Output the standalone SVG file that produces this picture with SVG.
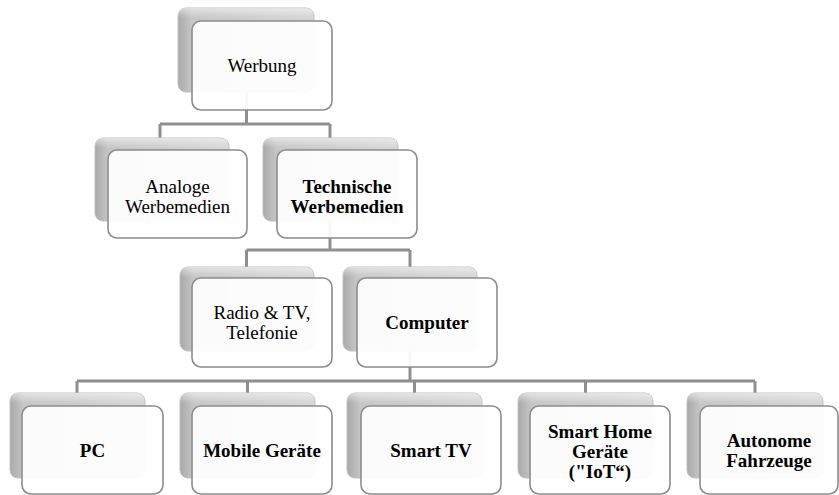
<svg xmlns="http://www.w3.org/2000/svg" width="839" height="495" viewBox="0 0 839 495" font-family="Liberation Serif, Times New Roman, serif">
<defs>
<linearGradient id="bk" x1="0" y1="0" x2="1" y2="0">
<stop offset="0" stop-color="#a9a9a9"/>
<stop offset="0.1" stop-color="#c6c6c6"/>
<stop offset="1" stop-color="#d6d6d6"/>
</linearGradient>
<linearGradient id="bkt" x1="0" y1="0" x2="0" y2="1">
<stop offset="0" stop-color="#ffffff" stop-opacity="0.5"/>
<stop offset="0.12" stop-color="#ffffff" stop-opacity="0"/>
</linearGradient>
<style>
.back{fill:url(#bk);stroke:#c0c0c0;stroke-width:1}
.hl{fill:url(#bkt);stroke:none}
.front{fill:#ffffff;fill-opacity:0.93;stroke:#8c8c8c;stroke-width:1.6}
.t{font-family:'Liberation Serif',serif;font-size:19px;fill:#000;text-anchor:middle}
.b{font-weight:bold}
.c{fill:none;stroke:#8f8f8f;stroke-width:3}
</style>
</defs>
<g id="connectors">
<path class="c" d="M246.5 92 V124 M160 124 H330 M160 124 V138 M330 124 V138"/>
<path class="c" d="M330 222 V250 M246.5 250 H410 M246.5 250 V267 M410 250 V267"/>
<path class="c" d="M410 351 V381 M77 381 H755 M77 381 V393 M247.5 381 V393 M414.5 381 V393 M585.5 381 V393 M755 381 V393"/>
</g>
<g id="werbung">
<rect class="back" x="178" y="8" width="136" height="84" rx="8"/>
<rect class="hl" x="178" y="8" width="136" height="84" rx="8"/>
<rect class="front" x="192" y="21" width="140" height="89" rx="9"/>
<text class="t" x="262" y="72">Werbung</text>
</g>
<g id="analoge">
<rect class="back" x="95" y="138" width="134" height="83" rx="8"/>
<rect class="hl" x="95" y="138" width="134" height="83" rx="8"/>
<rect class="front" x="108" y="150" width="139" height="88" rx="9"/>
<text class="t" x="177.5" y="193">Analoge</text>
<text class="t" x="177.5" y="213">Werbemedien</text>
</g>
<g id="technische">
<rect class="back" x="263" y="138" width="135" height="83" rx="8"/>
<rect class="hl" x="263" y="138" width="135" height="83" rx="8"/>
<rect class="front" x="277" y="150" width="140" height="88" rx="9"/>
<text class="t b" x="347" y="193">Technische</text>
<text class="t b" x="347" y="213">Werbemedien</text>
</g>
<g id="radio">
<rect class="back" x="180" y="267" width="134" height="84" rx="8"/>
<rect class="hl" x="180" y="267" width="134" height="84" rx="8"/>
<rect class="front" x="192" y="278" width="140" height="89" rx="9"/>
<text class="t" x="262" y="319">Radio &amp; TV,</text>
<text class="t" x="262" y="339">Telefonie</text>
</g>
<g id="computer">
<rect class="back" x="343" y="267" width="134" height="84" rx="8"/>
<rect class="hl" x="343" y="267" width="134" height="84" rx="8"/>
<rect class="front" x="357" y="278" width="140" height="89" rx="9"/>
<text class="t b" x="427" y="329">Computer</text>
</g>
<g id="pc">
<rect class="back" x="10" y="393" width="135" height="85" rx="8"/>
<rect class="hl" x="10" y="393" width="135" height="85" rx="8"/>
<rect class="front" x="22" y="406" width="141" height="88" rx="9"/>
<text class="t b" x="92.5" y="457">PC</text>
</g>
<g id="mobile">
<rect class="back" x="180" y="393" width="135" height="85" rx="8"/>
<rect class="hl" x="180" y="393" width="135" height="85" rx="8"/>
<rect class="front" x="192" y="406" width="140" height="88" rx="9"/>
<text class="t b" x="262" y="457">Mobile Geräte</text>
</g>
<g id="smarttv">
<rect class="back" x="347" y="393" width="135" height="85" rx="8"/>
<rect class="hl" x="347" y="393" width="135" height="85" rx="8"/>
<rect class="front" x="361" y="406" width="140" height="88" rx="9"/>
<text class="t b" x="431" y="457">Smart TV</text>
</g>
<g id="smarthome">
<rect class="back" x="518" y="393" width="135" height="85" rx="8"/>
<rect class="hl" x="518" y="393" width="135" height="85" rx="8"/>
<rect class="front" x="530" y="406" width="140" height="88" rx="9"/>
<text class="t b" x="600" y="438">Smart Home</text>
<text class="t b" x="600" y="458">Geräte</text>
<text class="t b" x="600" y="478">("IoT“)</text>
</g>
<g id="autonome">
<rect class="back" x="687" y="393" width="136" height="85" rx="8"/>
<rect class="hl" x="687" y="393" width="136" height="85" rx="8"/>
<rect class="front" x="700" y="406" width="138" height="88" rx="9"/>
<text class="t b" x="769" y="447">Autonome</text>
<text class="t b" x="769" y="467">Fahrzeuge</text>
</g>
</svg>
